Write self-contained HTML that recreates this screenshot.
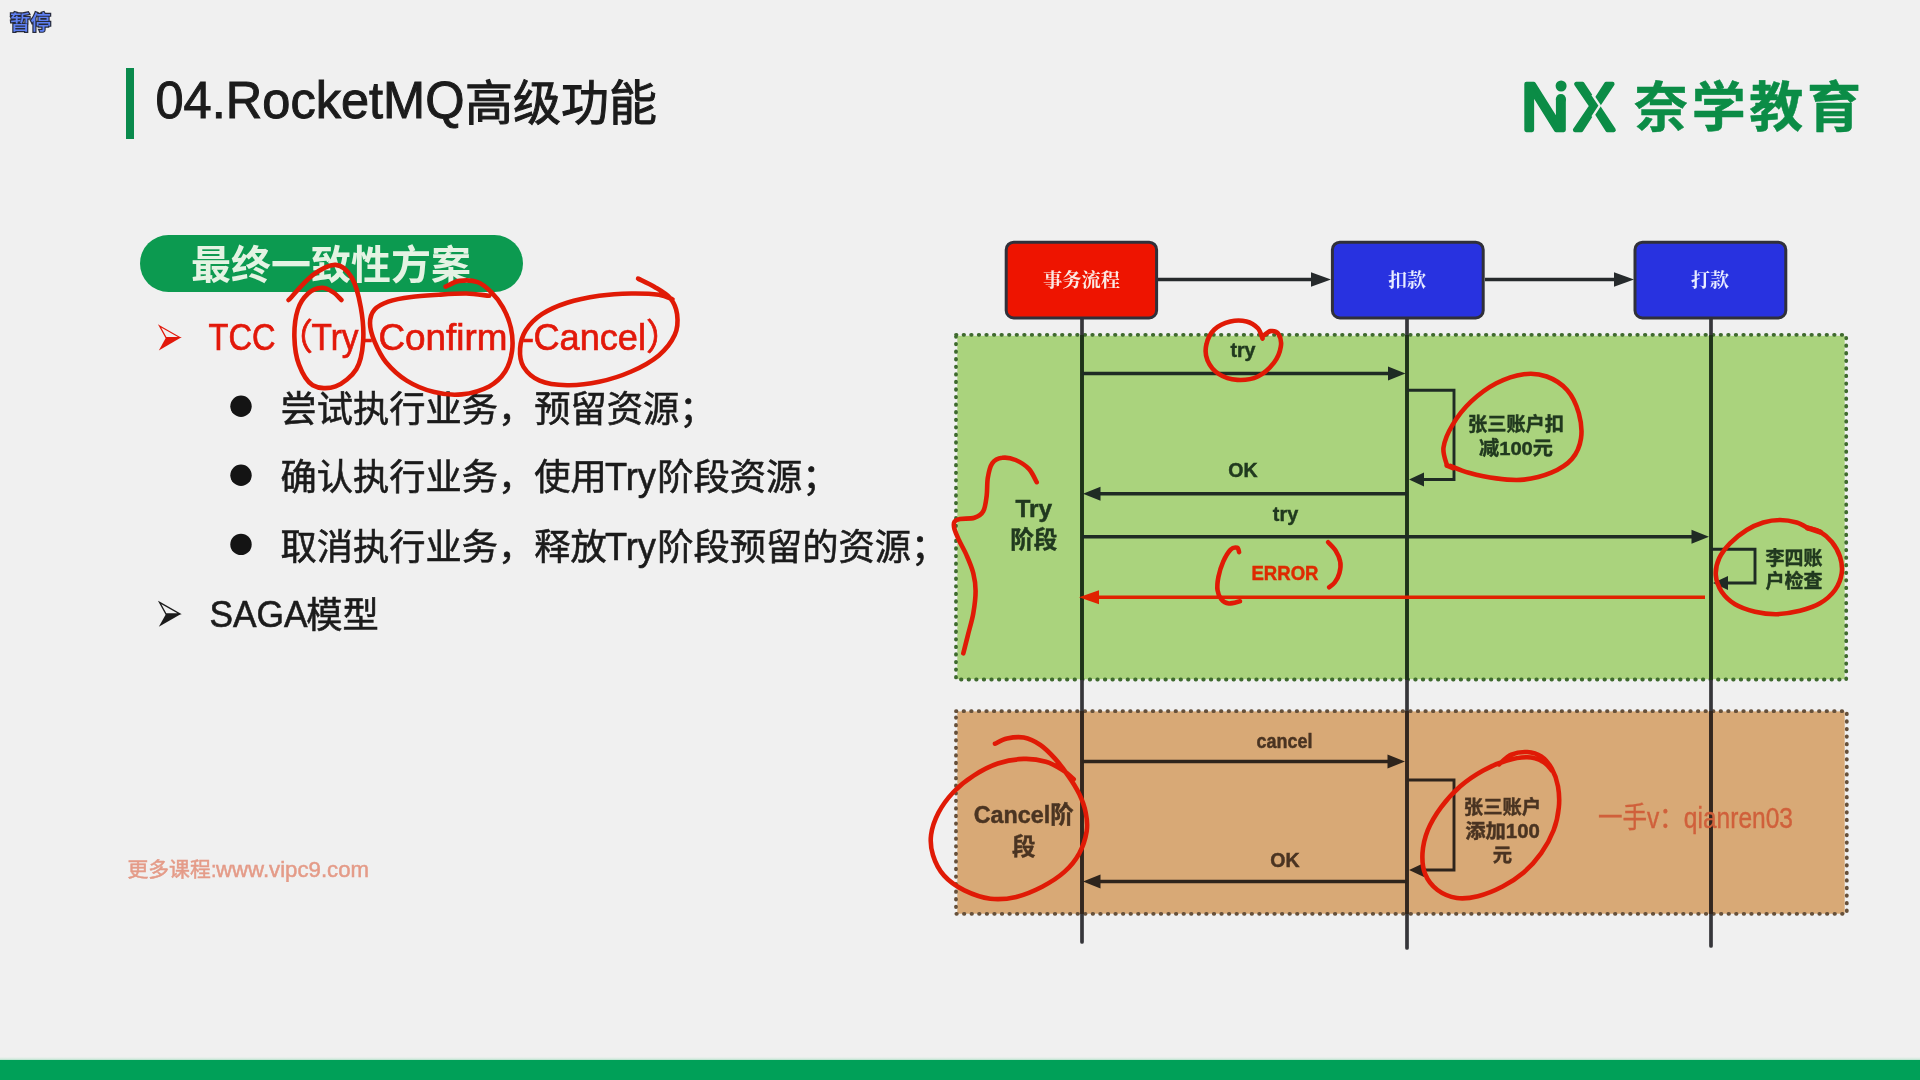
<!DOCTYPE html>
<html lang="zh-CN">
<head>
<meta charset="utf-8">
<title>04.RocketMQ高级功能</title>
<style>
  html, body { margin: 0; padding: 0; }
  body {
    width: 1920px; height: 1080px; overflow: hidden; position: relative;
    background: #f0f0f0;
    font-family: "Liberation Sans", "Noto Sans CJK SC", sans-serif;
    color: #1c1c1c;
  }
  .abs { position: absolute; white-space: nowrap; line-height: 1; }
  #pause {
    left: 10px; top: 13.2px; font-size: 20.5px; font-weight: 500; color: #5f80f2;
    -webkit-text-stroke: 2.4px #262a3a; paint-order: stroke fill; letter-spacing: 0px;
  }
  #titlebar { left: 126px; top: 68px; width: 8px; height: 71px; background: #0a8a4c; }
  #pill {
    left: 140px; top: 235px; width: 383px; height: 57px; border-radius: 29px; background: #0c9a50;
  }
  #bottombar { left: 0; top: 1060px; width: 1920px; height: 20px; background: #00a058; }
  #bottomfade { left: 0; top: 1057px; width: 1920px; height: 4px; background: linear-gradient(#f0f0f0, #cfe9db 60%, #00a058); }
  svg { position: absolute; left: 0; top: 0; filter: blur(0.55px); }
  #pause, #pill, #titlebar { filter: blur(0.5px); }
</style>
</head>
<body>

<!-- DIAGRAM-SVG -->
<svg id="diagram" width="1920" height="1080" viewBox="0 0 1920 1080">
<rect x="957.3" y="335.8" width="887.4" height="343.4" fill="#aad37d"/>
<rect x="957.3" y="711.4" width="887.4" height="202.3" fill="#d8a976"/>
<path d="M956 334.8 H1846.2 V679.5 H956 Z" stroke="#3f6a2e" stroke-width="3.8" stroke-dasharray="0.5 7.07" stroke-linecap="round" fill="none"/>
<path d="M956 711.2 H1846.8 V913.8 H956 Z" stroke="#66503a" stroke-width="3.8" stroke-dasharray="0.5 7.07" stroke-linecap="round" fill="none"/>
<path d="M1082 318 V942" stroke="#36363a" stroke-width="3.7" fill="none" stroke-linecap="round"/>
<path d="M1082 335 V680" stroke="#1e3318" stroke-width="3.7" fill="none"/>
<path d="M1082 711 V914" stroke="#33261d" stroke-width="3.7" fill="none"/>
<path d="M1407 318 V948" stroke="#36363a" stroke-width="3.7" fill="none" stroke-linecap="round"/>
<path d="M1407 335 V680" stroke="#1e3318" stroke-width="3.7" fill="none"/>
<path d="M1407 711 V914" stroke="#33261d" stroke-width="3.7" fill="none"/>
<path d="M1711 318 V946" stroke="#36363a" stroke-width="3.7" fill="none" stroke-linecap="round"/>
<path d="M1711 335 V680" stroke="#1e3318" stroke-width="3.7" fill="none"/>
<path d="M1711 711 V914" stroke="#33261d" stroke-width="3.7" fill="none"/>
<rect x="1006.2" y="242.2" width="150.4" height="75.8" rx="7.5" fill="#ee1400" stroke="#30303a" stroke-width="3"/>
<rect x="1332.4" y="242.2" width="150.8" height="75.8" rx="7.5" fill="#2832e0" stroke="#30303a" stroke-width="3"/>
<rect x="1635" y="242.2" width="150.8" height="75.8" rx="7.5" fill="#2832e0" stroke="#30303a" stroke-width="3"/>
<path d="M1158 279.5 H1315" stroke="#262a2c" stroke-width="3.4" fill="none"/><path d="M1331 279.5 L1311 272.3 L1311 286.7 Z" fill="#262a2c"/>
<path d="M1485 279.5 H1618" stroke="#262a2c" stroke-width="3.4" fill="none"/><path d="M1634 279.5 L1614 272.3 L1614 286.7 Z" fill="#262a2c"/>
<path d="M1082 373.5 H1391.5" stroke="#1f2b24" stroke-width="3.4" fill="none"/><path d="M1405.5 373.5 L1388 366.5 L1388 380.5 Z" fill="#1f2b24"/>
<path d="M1407 493.7 H1097" stroke="#1f2b24" stroke-width="3.4" fill="none"/><path d="M1083 493.7 L1100.5 486.7 L1100.5 500.7 Z" fill="#1f2b24"/>
<path d="M1082 536.7 H1695" stroke="#1f2b24" stroke-width="3.4" fill="none"/><path d="M1709 536.7 L1691.5 529.7 L1691.5 543.7 Z" fill="#1f2b24"/>
<path d="M1705 597.2 H1095" stroke="#e02200" stroke-width="3.4" fill="none"/><path d="M1079 597.2 L1099 590.2 L1099 604.2 Z" fill="#e02200"/>
<path d="M1082 761.5 H1391" stroke="#2e241c" stroke-width="3.4" fill="none"/><path d="M1405 761.5 L1387.5 754.5 L1387.5 768.5 Z" fill="#2e241c"/>
<path d="M1407 881.5 H1097" stroke="#2e241c" stroke-width="3.4" fill="none"/><path d="M1083 881.5 L1100.5 874.5 L1100.5 888.5 Z" fill="#2e241c"/>
<path d="M1407 390.2 H1454 V479.5 H1421" stroke="#1f2b24" stroke-width="2.9" fill="none"/><path d="M1409 479.5 L1424 472.5 L1424 486.5 Z" fill="#1f2b24"/>
<path d="M1711 549.2 H1755 V583 H1725" stroke="#1f2b24" stroke-width="2.9" fill="none"/><path d="M1713 583 L1728 576 L1728 590 Z" fill="#1f2b24"/>
<path d="M1407 780 H1454 V870 H1421" stroke="#2e241c" stroke-width="2.9" fill="none"/><path d="M1409 870 L1424 863 L1424 877 Z" fill="#2e241c"/>
<text x="1081.5" y="287.4" font-size="19.5" font-weight="700" fill="#fbe9e4" text-anchor="middle" font-family="&quot;Liberation Serif&quot;, &quot;Noto Serif CJK SC&quot;, serif" textLength="77" lengthAdjust="spacingAndGlyphs">事务流程</text>
<text x="1407" y="287.4" font-size="19.5" font-weight="700" fill="#e8ecff" text-anchor="middle" font-family="&quot;Liberation Serif&quot;, &quot;Noto Serif CJK SC&quot;, serif" textLength="38" lengthAdjust="spacingAndGlyphs">扣款</text>
<text x="1710" y="287.4" font-size="19.5" font-weight="700" fill="#e8ecff" text-anchor="middle" font-family="&quot;Liberation Serif&quot;, &quot;Noto Serif CJK SC&quot;, serif" textLength="38" lengthAdjust="spacingAndGlyphs">打款</text>
<text x="1243" y="357" font-size="20" font-weight="700" fill="#21391f" text-anchor="middle" font-family="&quot;Liberation Sans&quot;, &quot;Noto Sans CJK SC&quot;, sans-serif" textLength="25.2" lengthAdjust="spacingAndGlyphs" stroke="#21391f" stroke-width="0.45">try</text>
<text x="1243" y="477" font-size="19.5" font-weight="700" fill="#21391f" text-anchor="middle" font-family="&quot;Liberation Sans&quot;, &quot;Noto Sans CJK SC&quot;, sans-serif" textLength="29.3" lengthAdjust="spacingAndGlyphs" stroke="#21391f" stroke-width="0.45">OK</text>
<text x="1285.5" y="521" font-size="20" font-weight="700" fill="#21391f" text-anchor="middle" font-family="&quot;Liberation Sans&quot;, &quot;Noto Sans CJK SC&quot;, sans-serif" textLength="25.3" lengthAdjust="spacingAndGlyphs" stroke="#21391f" stroke-width="0.45">try</text>
<text x="1285" y="580.3" font-size="19.5" font-weight="700" fill="#de2a00" text-anchor="middle" font-family="&quot;Liberation Sans&quot;, &quot;Noto Sans CJK SC&quot;, sans-serif" textLength="67" lengthAdjust="spacingAndGlyphs" stroke="#de2a00" stroke-width="0.45">ERROR</text>
<text x="1284.6" y="748" font-size="20" font-weight="700" fill="#4a3422" text-anchor="middle" font-family="&quot;Liberation Sans&quot;, &quot;Noto Sans CJK SC&quot;, sans-serif" textLength="56" lengthAdjust="spacingAndGlyphs" stroke="#4a3422" stroke-width="0.45">cancel</text>
<text x="1285" y="866.7" font-size="19.5" font-weight="700" fill="#4a3422" text-anchor="middle" font-family="&quot;Liberation Sans&quot;, &quot;Noto Sans CJK SC&quot;, sans-serif" textLength="29.3" lengthAdjust="spacingAndGlyphs" stroke="#4a3422" stroke-width="0.45">OK</text>
<text x="1033.8" y="516.8" font-size="23.5" font-weight="700" fill="#21391f" text-anchor="middle" font-family="&quot;Liberation Sans&quot;, &quot;Noto Sans CJK SC&quot;, sans-serif" textLength="36.7" lengthAdjust="spacingAndGlyphs" stroke="#21391f" stroke-width="0.45">Try</text>
<text x="1033.8" y="548" font-size="23.6" font-weight="700" fill="#21391f" text-anchor="middle" font-family="&quot;Liberation Sans&quot;, &quot;Noto Sans CJK SC&quot;, sans-serif" textLength="47.3" lengthAdjust="spacingAndGlyphs" stroke="#21391f" stroke-width="0.45">阶段</text>
<text x="1023.7" y="822.5" font-size="23.5" font-weight="700" fill="#4a3422" text-anchor="middle" font-family="&quot;Liberation Sans&quot;, &quot;Noto Sans CJK SC&quot;, sans-serif" textLength="100" lengthAdjust="spacingAndGlyphs" stroke="#4a3422" stroke-width="0.45">Cancel阶</text>
<text x="1023.7" y="855" font-size="23.5" font-weight="700" fill="#4a3422" text-anchor="middle" font-family="&quot;Liberation Sans&quot;, &quot;Noto Sans CJK SC&quot;, sans-serif" stroke="#4a3422" stroke-width="0.45">段</text>
<text x="1516" y="431" font-size="19.2" font-weight="700" fill="#21391f" text-anchor="middle" font-family="&quot;Liberation Sans&quot;, &quot;Noto Sans CJK SC&quot;, sans-serif" textLength="96" lengthAdjust="spacingAndGlyphs" stroke="#21391f" stroke-width="0.45">张三账户扣</text>
<text x="1516" y="455" font-size="19.2" font-weight="700" fill="#21391f" text-anchor="middle" font-family="&quot;Liberation Sans&quot;, &quot;Noto Sans CJK SC&quot;, sans-serif" textLength="74" lengthAdjust="spacingAndGlyphs" stroke="#21391f" stroke-width="0.45">减100元</text>
<text x="1794" y="564.5" font-size="19" font-weight="700" fill="#21391f" text-anchor="middle" font-family="&quot;Liberation Sans&quot;, &quot;Noto Sans CJK SC&quot;, sans-serif" textLength="57" lengthAdjust="spacingAndGlyphs" stroke="#21391f" stroke-width="0.45">李四账</text>
<text x="1794" y="588" font-size="19" font-weight="700" fill="#21391f" text-anchor="middle" font-family="&quot;Liberation Sans&quot;, &quot;Noto Sans CJK SC&quot;, sans-serif" textLength="57" lengthAdjust="spacingAndGlyphs" stroke="#21391f" stroke-width="0.45">户检查</text>
<text x="1502.5" y="814" font-size="19.3" font-weight="700" fill="#4a3422" text-anchor="middle" font-family="&quot;Liberation Sans&quot;, &quot;Noto Sans CJK SC&quot;, sans-serif" textLength="77.4" lengthAdjust="spacingAndGlyphs" stroke="#4a3422" stroke-width="0.45">张三账户</text>
<text x="1502.5" y="837.5" font-size="19.3" font-weight="700" fill="#4a3422" text-anchor="middle" font-family="&quot;Liberation Sans&quot;, &quot;Noto Sans CJK SC&quot;, sans-serif" textLength="74.7" lengthAdjust="spacingAndGlyphs" stroke="#4a3422" stroke-width="0.45">添加100</text>
<text x="1502.5" y="862" font-size="19.3" font-weight="700" fill="#4a3422" text-anchor="middle" font-family="&quot;Liberation Sans&quot;, &quot;Noto Sans CJK SC&quot;, sans-serif" stroke="#4a3422" stroke-width="0.45">元</text>
<text x="1695.5" y="827.5" font-size="29" font-weight="400" fill="#d0603b" text-anchor="middle" font-family="&quot;Liberation Sans&quot;, &quot;Noto Sans CJK SC&quot;, sans-serif" textLength="195" lengthAdjust="spacingAndGlyphs" stroke="#d0603b" stroke-width="0.4">一手v：qianren03</text>
</svg>
<!-- /DIAGRAM-SVG -->

<div class="abs" id="pause">暂停</div>
<div class="abs" id="titlebar"></div>
<div class="abs" id="pill"></div>

<!-- LEFT-SVG -->
<svg id="lefttext" width="1920" height="1080" viewBox="0 0 1920 1080" font-family="&quot;Liberation Sans&quot;, &quot;Noto Sans CJK SC&quot;, sans-serif">
<path d="M166 614 L181 614 L158.8 626.8 Z" fill="#1b1b1b"/><path d="M159.6 602.4 L179.5 613.7 L166 614 Z" fill="none" stroke="#1b1b1b" stroke-width="1.3" stroke-linejoin="miter"/>
<path d="M166 337.6 L181 337.6 L158.8 350.4 Z" fill="#e2180a"/><path d="M159.6 326 L179.5 337.3 L166 337.6 Z" fill="none" stroke="#e2180a" stroke-width="1.3" stroke-linejoin="miter"/>
<text y="118.2" fill="#1b1b1b" stroke="#1b1b1b" stroke-width="1.0"><tspan x="155.5" font-size="52" textLength="309" lengthAdjust="spacingAndGlyphs">04.RocketMQ</tspan><tspan x="465" y="119.8" font-size="48" textLength="192" lengthAdjust="spacingAndGlyphs">高级功能</tspan></text>
<text y="279" fill="#e4f3e3" font-weight="700" font-size="40"><tspan x="191" font-size="40" textLength="280" lengthAdjust="spacingAndGlyphs">最终一致性方案</tspan></text>
<text y="350.2" fill="#e2180a" stroke="#e2180a" stroke-width="0.7" font-size="36"><tspan x="208.6" y="350.2" font-size="37.5" textLength="67" lengthAdjust="spacingAndGlyphs">TCC</tspan><tspan x="277" font-size="36" textLength="36" lengthAdjust="spacingAndGlyphs">（</tspan><tspan x="311.5" font-size="37.5" textLength="47" lengthAdjust="spacingAndGlyphs">Try</tspan><tspan x="361" font-size="37.5" textLength="12" lengthAdjust="spacingAndGlyphs">-</tspan><tspan x="378.5" font-size="37.5" textLength="129" lengthAdjust="spacingAndGlyphs">Confirm</tspan><tspan x="522" font-size="37.5" textLength="12" lengthAdjust="spacingAndGlyphs">-</tspan><tspan x="533.5" font-size="37.5" textLength="112.5" lengthAdjust="spacingAndGlyphs">Cancel</tspan><tspan x="646" font-size="36" textLength="36" lengthAdjust="spacingAndGlyphs">）</tspan></text>
<circle cx="241" cy="406.3" r="10.7" fill="#141414"/>
<text y="421.5" fill="#1b1b1b" stroke="#1b1b1b" stroke-width="0.6" font-size="36"><tspan x="280.5" font-size="36" textLength="435" lengthAdjust="spacingAndGlyphs">尝试执行业务，预留资源；</tspan></text>
<circle cx="241" cy="475.2" r="10.7" fill="#141414"/>
<text y="490.4" fill="#1b1b1b" stroke="#1b1b1b" stroke-width="0.6" font-size="36"><tspan x="280.5" font-size="36" textLength="326.25" lengthAdjust="spacingAndGlyphs">确认执行业务，使用</tspan><tspan x="605" font-size="38.5" textLength="51" lengthAdjust="spacingAndGlyphs">Try</tspan><tspan x="657.3" font-size="36" textLength="181.25" lengthAdjust="spacingAndGlyphs">阶段资源；</tspan></text>
<circle cx="241" cy="544.4" r="10.7" fill="#141414"/>
<text y="559.6" fill="#1b1b1b" stroke="#1b1b1b" stroke-width="0.6" font-size="36"><tspan x="280.5" font-size="36" textLength="326.25" lengthAdjust="spacingAndGlyphs">取消执行业务，释放</tspan><tspan x="605" font-size="38.5" textLength="51" lengthAdjust="spacingAndGlyphs">Try</tspan><tspan x="657.3" font-size="36" textLength="290" lengthAdjust="spacingAndGlyphs">阶段预留的资源；</tspan></text>
<text y="626.8" fill="#1b1b1b" stroke="#1b1b1b" stroke-width="0.6" font-size="36"><tspan x="209.5" y="626.8" font-size="37.5" textLength="98" lengthAdjust="spacingAndGlyphs">SAGA</tspan><tspan x="306.3" y="628.3" font-size="36" textLength="72.5" lengthAdjust="spacingAndGlyphs">模型</tspan></text>
<text y="876.5" fill="#e49b88" stroke="#e49b88" stroke-width="0.5" font-size="21"><tspan x="127.5" font-size="20.8" textLength="83.2" lengthAdjust="spacingAndGlyphs">更多课程</tspan><tspan x="211" font-size="22.5" textLength="5.5" lengthAdjust="spacingAndGlyphs">:</tspan><tspan x="216" font-size="22.5" textLength="153" lengthAdjust="spacingAndGlyphs">www.vipc9.com</tspan></text>
<g fill="#0b8c46" stroke="#0b8c46" stroke-linejoin="round" stroke-linecap="round">
<text x="1521" y="129.7" font-size="66.6" font-weight="400" stroke-width="4.3">N</text>
<text x="1573.4" y="129.7" font-size="66.6" font-weight="400" stroke-width="4.3" textLength="41.6" lengthAdjust="spacingAndGlyphs">X</text>
<text x="1634" y="126.5" font-size="54" font-weight="700" stroke-width="0.5" textLength="227" lengthAdjust="spacing" font-family="&quot;Liberation Sans&quot;, &quot;Noto Sans CJK SC&quot;, sans-serif">奈学教育</text>
</g>
<rect x="1552" y="76" width="18" height="23" fill="#f0f0f0"/>
<circle cx="1560.9" cy="99" r="5.1" fill="#0b8c46"/>
<circle cx="1561.1" cy="86" r="5.5" fill="#0b8c46"/>
<path d="M1592.4 94.6 L1599.8 105.7 L1592.4 116.8" fill="none" stroke="#f0f0f0" stroke-width="2.4" stroke-linejoin="round"/>
</svg>
<!-- /LEFT-SVG -->

<div class="abs" id="bottomfade"></div>
<div class="abs" id="bottombar"></div>

<!-- ANNOT-SVG -->
<svg id="annot" width="1920" height="1080" viewBox="0 0 1920 1080" fill="none" stroke="#e01a06" stroke-width="4.6" stroke-linecap="round" stroke-linejoin="round">
<path d="M288.6 300.0 C292.7 295.8 304.9 281.1 312.7 275.2 C320.5 269.4 329.1 264.5 335.6 264.9 C342.1 265.3 347.5 270.4 351.7 277.5 C355.9 284.6 358.9 296.6 360.8 307.3 C362.7 318.0 363.9 331.4 363.1 341.7 C362.4 352.0 360.8 361.7 356.3 369.2 C351.7 376.6 342.9 383.7 335.6 386.4 C328.4 389.0 318.8 388.8 312.7 385.2 C306.6 381.6 302.0 372.6 299.0 364.6 C295.9 356.6 294.6 346.3 294.4 337.1 C294.2 327.9 295.5 316.8 297.8 309.6 C300.1 302.3 304.1 297.2 308.1 293.5 C312.1 289.9 317.7 288.0 321.9 287.8 C326.1 287.6 330.1 290.4 333.3 292.4 C336.6 294.4 340.0 298.7 341.4 300.0"/>
<path d="M445.6 286.7 C447.9 285.7 454.0 281.7 459.4 280.9 C464.7 280.2 472.4 280.2 477.7 282.1 C483.1 284.0 487.3 288.2 491.5 292.4 C495.7 296.6 499.7 301.4 502.9 307.3 C506.2 313.2 509.4 320.7 510.9 327.9 C512.5 335.2 513.0 343.6 512.1 350.8 C511.1 358.1 509.0 365.5 505.2 371.5 C501.4 377.4 496.4 382.5 489.2 386.4 C481.9 390.2 470.8 393.4 461.7 394.4 C452.5 395.3 443.3 394.4 434.2 392.1 C425.0 389.8 414.7 385.6 406.7 380.6 C398.6 375.7 391.4 368.8 386.0 362.3 C380.7 355.8 377.3 348.2 374.6 341.7 C371.9 335.2 370.0 328.7 370.0 323.3 C370.0 318.0 371.5 313.2 374.6 309.6 C377.6 306.0 382.2 303.7 388.3 301.6 C394.4 299.5 402.8 298.1 411.3 297.0 C419.7 295.8 429.6 295.3 438.8 294.7 C447.9 294.1 457.8 293.4 466.3 293.5 C474.7 293.7 485.3 295.5 489.2 295.8"/>
<path d="M638.1 278.6 C640.8 280.0 648.8 283.4 654.2 286.7 C659.5 289.9 666.4 293.5 670.2 298.1 C674.0 302.7 676.3 308.1 677.1 314.2 C677.9 320.3 677.9 327.9 674.8 334.8 C671.7 341.7 666.0 349.3 658.8 355.4 C651.5 361.5 641.2 367.1 631.3 371.5 C621.3 375.9 609.9 379.5 599.2 381.8 C588.5 384.1 577.0 385.4 567.1 385.2 C557.2 385.0 546.8 383.7 539.6 380.6 C532.3 377.6 526.8 372.2 523.5 366.9 C520.3 361.5 519.7 354.7 520.1 348.5 C520.5 342.4 522.2 335.9 525.8 330.2 C529.5 324.5 535.0 318.8 541.9 314.2 C548.8 309.6 557.5 305.8 567.1 302.7 C576.6 299.7 588.5 297.4 599.2 295.8 C609.9 294.3 621.3 293.7 631.3 293.5 C641.2 293.4 651.9 293.7 658.8 294.7 C665.6 295.6 670.2 298.5 672.5 299.3"/>
<path d="M1262.5 338.6 C1261.7 336.9 1260.6 331.2 1257.9 328.3 C1255.2 325.5 1251.0 322.6 1246.5 321.5 C1241.9 320.3 1235.8 320.1 1230.4 321.5 C1225.1 322.8 1218.4 325.7 1214.4 329.5 C1210.4 333.3 1207.5 339.2 1206.4 344.4 C1205.2 349.5 1205.4 355.5 1207.5 360.4 C1209.6 365.4 1214.0 370.9 1219.0 374.2 C1223.9 377.4 1230.8 379.5 1237.3 379.9 C1243.8 380.3 1251.8 379.3 1257.9 376.5 C1264.0 373.6 1270.1 367.7 1274.0 362.7 C1277.8 357.7 1280.1 351.4 1280.8 346.7 C1281.6 341.9 1280.3 336.7 1278.5 334.1 C1276.8 331.5 1273.0 330.8 1270.5 331.1 C1268.0 331.4 1264.8 334.9 1263.6 335.7"/>
<path d="M1447.0 465.4 C1446.4 462.4 1442.6 454.3 1443.5 447.5 C1444.5 440.7 1448.1 432.2 1452.7 424.6 C1457.3 416.9 1463.8 408.5 1471.0 401.7 C1478.3 394.8 1487.5 387.9 1496.3 383.3 C1505.0 378.8 1515.4 375.3 1523.8 374.2 C1532.2 373.0 1539.4 373.8 1546.7 376.5 C1553.9 379.1 1561.9 384.1 1567.3 390.2 C1572.6 396.3 1576.5 405.1 1578.8 413.1 C1581.0 421.1 1582.2 430.7 1581.0 438.3 C1579.9 446.0 1576.8 453.2 1571.9 459.0 C1566.9 464.7 1559.3 469.3 1551.3 472.7 C1543.2 476.1 1532.9 478.6 1523.8 479.6 C1514.6 480.5 1505.4 479.6 1496.3 478.4 C1487.1 477.3 1476.4 474.8 1468.8 472.7 C1461.1 470.6 1453.5 467.0 1450.4 465.8"/>
<path d="M1036.7 482.2 C1035.4 480.0 1032.4 472.6 1028.9 468.9 C1025.4 465.2 1020.0 461.9 1015.6 460.0 C1011.1 458.1 1006.1 457.2 1002.2 457.8 C998.3 458.3 994.6 460.0 992.2 463.3 C989.8 466.7 988.7 472.4 987.8 477.8 C986.9 483.1 987.4 490.0 986.7 495.6 C985.9 501.1 985.4 507.4 983.3 511.1 C981.3 514.8 978.3 516.5 974.4 517.8 C970.6 519.1 963.3 518.2 960.0 518.9 C956.7 519.6 955.4 520.1 954.4 521.8 C953.5 523.4 953.7 525.9 954.4 528.9 C955.2 531.9 956.9 535.6 958.9 540.0 C960.9 544.4 964.3 550.0 966.7 555.6 C969.1 561.1 971.9 567.4 973.3 573.3 C974.8 579.3 975.6 584.4 975.6 591.1 C975.6 597.8 974.6 605.9 973.3 613.3 C972.0 620.7 969.4 628.9 967.8 635.6 C966.1 642.2 964.1 650.4 963.3 653.3"/>
<path d="M995.0 743.7 C997.0 742.8 1002.3 739.5 1007.0 738.5 C1011.8 737.5 1018.1 736.5 1023.7 737.6 C1029.3 738.7 1035.1 741.5 1040.4 745.0 C1045.6 748.5 1050.6 753.8 1055.2 758.9 C1059.8 764.0 1064.1 769.7 1068.1 775.6 C1072.2 781.4 1076.3 787.9 1079.3 794.1 C1082.2 800.2 1084.5 806.4 1085.7 812.6 C1087.0 818.8 1087.7 824.3 1086.7 831.1 C1085.6 837.9 1083.0 846.5 1079.3 853.3 C1075.6 860.1 1070.6 866.3 1064.4 871.9 C1058.3 877.4 1050.2 882.5 1042.2 886.7 C1034.2 890.8 1024.9 894.8 1016.3 896.9 C1007.7 898.9 999.0 899.8 990.4 898.7 C981.7 897.6 972.2 894.2 964.4 890.4 C956.7 886.5 949.3 881.4 944.1 875.6 C938.8 869.7 935.1 862.0 933.0 855.2 C930.8 848.4 930.2 841.9 931.1 834.8 C932.0 827.7 934.8 819.7 938.5 812.6 C942.2 805.5 947.5 798.4 953.3 792.2 C959.2 786.0 966.3 780.3 973.7 775.6 C981.1 770.8 989.4 766.3 997.8 763.5 C1006.1 760.7 1015.7 759.2 1023.7 758.9 C1031.7 758.6 1039.4 759.8 1045.9 761.7 C1052.4 763.5 1058.0 767.1 1062.6 770.0 C1067.2 772.9 1071.9 777.7 1073.7 779.3"/>
<path d="M1499.0 764.3 C1501.1 762.7 1506.7 756.7 1511.4 754.6 C1516.0 752.6 1522.2 751.7 1527.2 752.0 C1532.2 752.3 1537.1 753.6 1541.2 756.4 C1545.4 759.2 1549.0 763.7 1551.8 768.7 C1554.6 773.7 1556.8 779.8 1558.0 786.3 C1559.1 792.7 1559.6 800.1 1558.8 807.4 C1558.1 814.7 1556.5 822.6 1553.6 830.2 C1550.6 837.9 1546.2 846.1 1541.2 853.1 C1536.3 860.1 1530.1 866.9 1523.7 872.5 C1517.2 878.0 1510.2 882.6 1502.6 886.5 C1494.9 890.5 1485.6 894.3 1477.9 896.2 C1470.3 898.1 1463.6 899.0 1456.8 898.0 C1450.1 896.9 1442.8 894.0 1437.5 890.0 C1432.2 886.1 1427.7 880.4 1425.2 874.2 C1422.7 868.1 1422.1 860.4 1422.5 853.1 C1423.0 845.8 1424.7 837.9 1427.8 830.2 C1430.9 822.6 1435.6 814.7 1441.0 807.4 C1446.4 800.1 1453.3 792.4 1460.3 786.3 C1467.4 780.1 1475.6 774.7 1483.2 770.5 C1490.8 766.2 1498.7 763.0 1506.1 760.8 C1513.4 758.6 1521.0 757.1 1527.2 757.3 C1533.3 757.4 1538.9 759.5 1543.0 761.7 C1547.1 763.9 1550.3 769.0 1551.8 770.5"/>
<path d="M1239.1 552.1 C1238.8 551.4 1238.6 548.2 1237.2 547.8 C1235.8 547.4 1233.0 547.3 1230.6 549.7 C1228.3 552.0 1225.2 557.3 1223.1 561.9 C1221.1 566.4 1219.4 572.2 1218.4 576.9 C1217.5 581.6 1217.0 586.3 1217.5 590.0 C1218.0 593.8 1219.4 597.1 1221.3 599.4 C1223.1 601.6 1225.6 603.2 1228.8 603.5 C1231.9 603.8 1238.1 601.6 1240.0 601.3"/>
<path d="M1328.1 542.2 C1329.4 543.6 1333.6 547.3 1335.6 550.6 C1337.7 553.9 1339.7 558.1 1340.3 561.9 C1341.0 565.6 1340.3 569.7 1339.4 573.1 C1338.5 576.6 1336.4 580.2 1334.7 582.5 C1333.0 584.8 1330.0 586.4 1329.1 587.2"/>
<path d="M1808.3 528.3 C1806.4 527.4 1801.4 523.9 1796.7 522.5 C1791.9 521.1 1785.6 520.0 1780.0 520.0 C1774.4 520.0 1768.9 520.8 1763.3 522.5 C1757.8 524.2 1752.2 526.5 1746.7 530.0 C1741.1 533.5 1734.6 538.6 1730.0 543.3 C1725.4 548.1 1721.5 553.1 1719.2 558.3 C1716.8 563.6 1715.4 569.4 1715.8 575.0 C1716.2 580.6 1718.5 586.8 1721.7 591.7 C1724.9 596.5 1729.4 600.8 1735.0 604.2 C1740.6 607.5 1748.1 610.0 1755.0 611.7 C1761.9 613.3 1769.2 614.3 1776.7 614.2 C1784.2 614.0 1792.8 612.6 1800.0 610.8 C1807.2 609.0 1814.2 606.8 1820.0 603.3 C1825.8 599.9 1831.4 595.0 1835.0 590.0 C1838.6 585.0 1840.8 578.9 1841.7 573.3 C1842.5 567.8 1841.7 561.9 1840.0 556.7 C1838.3 551.4 1835.0 545.8 1831.7 541.7 C1828.3 537.5 1823.8 533.9 1820.0 531.7 C1816.2 529.4 1811.0 528.9 1809.2 528.3"/>
<path d="M1447 465.5 L1453 468" stroke-width="5"/>
<path d="M1808 528 L1820 532" stroke-width="5.5"/>
</svg>
<!-- /ANNOT-SVG -->

</body>
</html>
